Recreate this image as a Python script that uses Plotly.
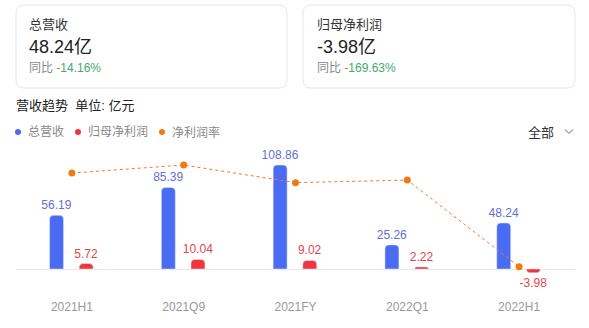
import plotly.graph_objects as go

categories = ["2021H1", "2021Q9", "2021FY", "2022Q1", "2022H1"]
revenue = [56.19, 85.39, 108.86, 25.26, 48.24]
net_profit = [5.72, 10.04, 9.02, 2.22, -3.98]
net_margin = [10.18, 11.76, 8.29, 8.79, -8.25]

W, H = 589, 328
L, R, T, B = 16, 575, 150, 298
PW, PH = R - L, B - T

FONT = "Liberation Sans, Arial, Noto Sans CJK SC, sans-serif"

def px(x):
    return (x - L) / PW

def py(y):
    return (B - y) / PH

fig = go.Figure()
fig.add_trace(go.Bar(
    x=categories, y=revenue, name="总营收",
    marker=dict(color="#4a6cf2", cornerradius=4),
    width=0.125, offset=-0.2,
    text=[f"{v:.2f}" for v in revenue], textposition="outside",
    textfont=dict(color="#5f70d6", size=12, family=FONT),
    constraintext="none",
    cliponaxis=False,
))
fig.add_trace(go.Bar(
    x=categories, y=net_profit, name="归母净利润",
    marker=dict(color="#f2343e", cornerradius=4),
    width=0.125, offset=0.065,
    text=[f"{v:.2f}" for v in net_profit], textposition="outside",
    textfont=dict(color="#e2464c", size=12, family=FONT),
    constraintext="none",
    cliponaxis=False,
))
fig.add_trace(go.Scatter(
    x=categories, y=net_margin, name="净利润率", yaxis="y2",
    mode="lines+markers",
    line=dict(color="#f07a2a", width=1, dash="dot"),
    marker=dict(color="#f07a12", size=7),
    cliponaxis=False,
))

def rrect(x0, y0, x1, y1, r):
    pts = [
        f"M {px(x0 + r)},{py(y0)}",
        f"L {px(x1 - r)},{py(y0)}",
        f"Q {px(x1)},{py(y0)} {px(x1)},{py(y0 + r)}",
        f"L {px(x1)},{py(y1 - r)}",
        f"Q {px(x1)},{py(y1)} {px(x1 - r)},{py(y1)}",
        f"L {px(x0 + r)},{py(y1)}",
        f"Q {px(x0)},{py(y1)} {px(x0)},{py(y1 - r)}",
        f"L {px(x0)},{py(y0 + r)}",
        f"Q {px(x0)},{py(y0)} {px(x0 + r)},{py(y0)}",
        "Z",
    ]
    return " ".join(pts)

shapes = []
for (x0, x1) in [(16, 287), (303, 575)]:
    shapes.append(dict(type="path", xref="paper", yref="paper",
                       path=rrect(x0, 5, x1, 88, 8),
                       line=dict(color="#e6e6e6", width=1), fillcolor="rgba(0,0,0,0)", layer="below"))

# legend dots
for cx, col in [(18, "#4a6cf2"), (78, "#f2343e"), (162, "#f07a12")]:
    r = 3
    shapes.append(dict(type="circle", xref="paper", yref="paper",
                       x0=px(cx - r), x1=px(cx + r), y0=py(132 + r), y1=py(132 - r),
                       fillcolor=col, line=dict(width=0)))
# chevron
shapes.append(dict(type="path", xref="paper", yref="paper",
                   path=f"M {px(565)},{py(129.5)} L {px(569)},{py(133.5)} L {px(573)},{py(129.5)}",
                   line=dict(color="#666", width=1)))

annotations = []
def ann(text, x, y, size, color):
    annotations.append(dict(text=text, x=px(x), y=py(y), xref="paper", yref="paper",
                            xanchor="left", yanchor="middle", showarrow=False,
                            font=dict(size=size, color=color, family=FONT)))

ann("总营收", 27, 24, 13, "#333333")
ann("48.24亿", 27, 47, 18, "#222222")
ann("同比 <span style='color:#46a86e'>-14.16%</span>", 27, 68, 12, "#8a8a8a")
ann("归母净利润", 315, 24, 13, "#333333")
ann("-3.98亿", 315, 47, 18, "#222222")
ann("同比 <span style='color:#46a86e'>-169.63%</span>", 315, 68, 12, "#8a8a8a")
ann("营收趋势  单位: 亿元", 14, 105, 13, "#222222")
ann("总营收", 26, 132, 12, "#888888")
ann("归母净利润", 86, 132, 12, "#888888")
ann("净利润率", 170, 132, 12, "#888888")
ann("全部", 526, 132, 13, "#333333")

y1_top = (269 - T) / 0.955
y1_bot = -(B - 269) / 0.955
y2_top = 11.76 + (165 - T) / 5.08
y2_bot = 11.76 - (B - 165) / 5.08

fig.update_layout(
    width=W, height=H,
    margin=dict(l=L, r=W - R, t=T, b=H - B),
    paper_bgcolor="white", plot_bgcolor="white",
    showlegend=False,
    barmode="overlay",
    xaxis=dict(range=[-0.5, 4.5], showgrid=False, showline=False, zeroline=False,
               ticks="", tickfont=dict(size=12, color="#999999", family=FONT)),
    yaxis=dict(range=[y1_bot, y1_top], showgrid=False, showticklabels=False,
               zeroline=True, zerolinecolor="#e8e8e8", zerolinewidth=1),
    yaxis2=dict(range=[y2_bot, y2_top], overlaying="y", side="right",
                showgrid=False, showticklabels=False, zeroline=False),
    shapes=shapes, annotations=annotations,
    font=dict(family=FONT),
)

fig.write_html("out.html")
